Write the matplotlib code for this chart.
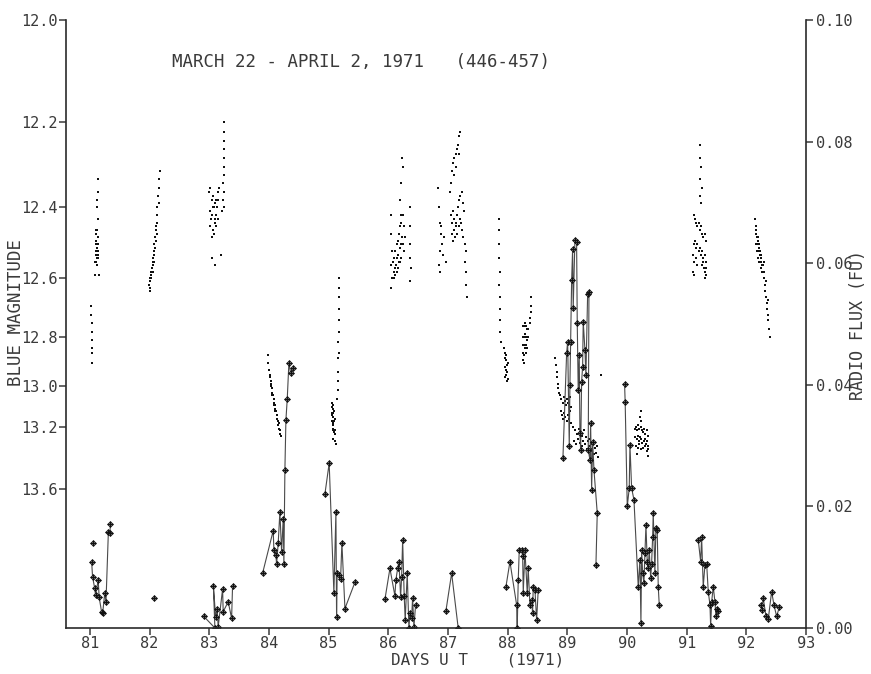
import numpy as np
import matplotlib
matplotlib.use("Agg")
import matplotlib.pyplot as plt

# ---- optical (blue magnitude), one pair of lists per night ----
opt81_t = [81.02, 81.02, 81.03, 81.03, 81.03, 81.04, 81.04, 81.04,
           81.13, 81.13, 81.12, 81.12, 81.13, 81.10, 81.11, 81.12, 81.13, 81.14, 81.10,
           81.11, 81.12, 81.13, 81.14, 81.10, 81.11, 81.12, 81.13, 81.09, 81.11, 81.12,
           81.14, 81.08, 81.15]
opt81_m = [12.69, 12.72, 12.75, 12.78, 12.81, 12.84, 12.86, 12.90,
           12.33, 12.36, 12.38, 12.40, 12.43, 12.46, 12.47, 12.46, 12.48, 12.50, 12.49,
           12.50, 12.51, 12.52, 12.50, 12.52, 12.53, 12.54, 12.53, 12.55, 12.55, 12.56,
           12.54, 12.59, 12.59]

opt82_t = [82.17, 82.16, 82.15, 82.14, 82.15, 82.13, 82.12, 82.13, 82.11, 82.10, 82.12,
           82.09, 82.10, 82.08, 82.09, 82.07, 82.08, 82.06, 82.07, 82.05, 82.06, 82.04,
           82.05, 82.03, 82.02, 82.03, 82.01, 82.00, 81.99, 82.01, 82.00]
opt82_m = [12.31, 12.33, 12.35, 12.37, 12.39, 12.40, 12.42, 12.44, 12.45, 12.46, 12.47,
           12.48, 12.49, 12.50, 12.51, 12.52, 12.53, 12.54, 12.55, 12.55, 12.56, 12.57,
           12.58, 12.58, 12.59, 12.60, 12.61, 12.60, 12.62, 12.63, 12.64]

opt83_t = [83.25, 83.25, 83.24, 83.25, 83.24, 83.25, 83.24, 83.23, 83.24, 83.23, 83.25, 83.22,
           83.00, 83.02, 83.04, 83.06, 83.08, 83.10, 83.12, 83.14, 83.01, 83.03, 83.05,
           83.07, 83.09, 83.11, 83.13, 83.15, 83.16, 83.02, 83.06, 83.10, 83.14, 83.04,
           83.08, 83.12, 83.05, 83.20, 83.10]
opt83_m = [12.20, 12.22, 12.24, 12.26, 12.28, 12.30, 12.32, 12.34, 12.36, 12.38, 12.40, 12.41,
           12.36, 12.35, 12.38, 12.37, 12.40, 12.39, 12.38, 12.36, 12.41, 12.43, 12.42,
           12.40, 12.43, 12.42, 12.40, 12.38, 12.35, 12.45, 12.46, 12.44, 12.43, 12.48,
           12.47, 12.45, 12.54, 12.53, 12.56]

opt84_t = [83.98, 83.99, 84.00, 84.01, 84.02, 84.03, 84.04, 84.05, 84.06, 84.07, 84.08,
           84.09, 84.10, 84.11, 84.12, 84.13, 84.14, 84.15, 84.16, 84.17, 84.18, 84.19,
           84.20, 84.05, 84.09, 84.13, 84.17, 84.03, 84.11]
opt84_m = [12.87, 12.90, 12.93, 12.95, 12.96, 12.98, 13.00, 13.01, 13.03, 13.04, 13.06,
           13.08, 13.09, 13.11, 13.12, 13.14, 13.16, 13.17, 13.19, 13.21, 13.22, 13.24,
           13.25, 13.04, 13.09, 13.16, 13.18, 12.99, 13.12]

opt85_t = [85.18, 85.18, 85.17, 85.18, 85.17, 85.17, 85.16, 85.17, 85.16, 85.16, 85.15,
           85.15, 85.14,
           85.05, 85.06, 85.07, 85.08, 85.05, 85.06, 85.07, 85.08, 85.09, 85.06, 85.07,
           85.08, 85.09, 85.10, 85.07, 85.08, 85.09, 85.10, 85.11, 85.08, 85.10, 85.12]
opt85_m = [12.60, 12.63, 12.66, 12.70, 12.74, 12.78, 12.82, 12.86, 12.88, 12.94, 12.98,
           13.02, 13.06,
           13.08, 13.10, 13.09, 13.11, 13.13, 13.14, 13.15, 13.13, 13.12, 13.17, 13.18,
           13.19, 13.17, 13.16, 13.21, 13.22, 13.23, 13.24, 13.22, 13.27, 13.28, 13.30]

opt86_t = [86.05, 86.05, 86.06, 86.05, 86.06, 86.05,
           86.08, 86.10, 86.12, 86.14, 86.16, 86.18, 86.20, 86.22, 86.24, 86.26, 86.28,
           86.09, 86.11, 86.13, 86.15, 86.17, 86.19, 86.21, 86.23, 86.25, 86.27,
           86.10, 86.12, 86.14, 86.16, 86.18, 86.20, 86.22,
           86.20, 86.22, 86.24, 86.23, 86.21,
           86.36, 86.37, 86.36, 86.37, 86.38, 86.36]
opt86_m = [12.42, 12.47, 12.52, 12.56, 12.60, 12.63,
           12.55, 12.54, 12.52, 12.50, 12.49, 12.47, 12.45, 12.44, 12.42, 12.45, 12.48,
           12.58, 12.57, 12.56, 12.54, 12.53, 12.51, 12.50, 12.48, 12.50, 12.52,
           12.60, 12.59, 12.58, 12.57, 12.55, 12.55, 12.54,
           12.38, 12.34, 12.30, 12.28, 12.42,
           12.40, 12.45, 12.50, 12.54, 12.57, 12.61]

opt87_t = [86.84, 86.85, 86.86, 86.88, 86.90, 86.92, 86.85, 86.87, 86.89, 86.94, 86.96, 86.86,
           87.03, 87.05, 87.07, 87.09, 87.11, 87.13, 87.15, 87.17, 87.19, 87.20, 87.10,
           87.14, 87.18,
           87.05, 87.07, 87.09, 87.11, 87.13, 87.15, 87.17, 87.19, 87.21, 87.23, 87.25,
           87.27, 87.06, 87.08, 87.10, 87.12, 87.14, 87.16, 87.18, 87.20, 87.22, 87.24,
           87.26, 87.28, 87.30, 87.28, 87.30, 87.31, 87.32]
opt87_m = [12.35, 12.40, 12.44, 12.47, 12.50, 12.53, 12.56, 12.52, 12.45, 12.48, 12.55, 12.58,
           12.36, 12.34, 12.31, 12.29, 12.28, 12.27, 12.26, 12.25, 12.23, 12.22, 12.32,
           12.30, 12.27,
           12.42, 12.44, 12.41, 12.43, 12.45, 12.42, 12.40, 12.38, 12.37, 12.36, 12.39,
           12.41, 12.47, 12.49, 12.46, 12.48, 12.44, 12.47, 12.45, 12.43, 12.44, 12.46,
           12.48, 12.50, 12.52, 12.55, 12.58, 12.62, 12.66]

opt88_t = [87.85, 87.86, 87.85, 87.86, 87.87, 87.86, 87.87, 87.88, 87.87, 87.88, 87.89,
           87.94, 87.95, 87.96, 87.97, 87.98, 87.99, 88.00, 87.95, 87.97, 87.99, 87.96,
           87.98, 88.00, 87.99,
           88.40, 88.40, 88.39, 88.38, 88.37, 88.25, 88.27, 88.29, 88.31, 88.33, 88.35,
           88.25, 88.27, 88.29, 88.31, 88.33, 88.35, 88.25, 88.27, 88.29, 88.31, 88.33,
           88.26, 88.28, 88.30, 88.26, 88.28]
opt88_m = [12.43, 12.46, 12.50, 12.54, 12.58, 12.62, 12.66, 12.70, 12.74, 12.78, 12.82,
           12.84, 12.86, 12.88, 12.87, 12.89, 12.91, 12.90, 12.92, 12.93, 12.94, 12.96,
           12.95, 12.97, 12.98,
           12.66, 12.69, 12.71, 12.73, 12.75, 12.76, 12.76, 12.75, 12.76, 12.77, 12.77,
           12.80, 12.80, 12.79, 12.80, 12.81, 12.80, 12.83, 12.83, 12.84, 12.83, 12.84,
           12.86, 12.87, 12.86, 12.89, 12.90]

opt89_t = [88.80, 88.81, 88.82, 88.83, 88.84, 88.85, 88.86,
           88.88, 88.90, 88.92, 88.94, 88.96, 88.98, 89.00, 89.02, 89.04, 89.06,
           88.89, 88.91, 88.93, 88.95, 88.97, 88.99, 89.01, 89.03, 89.05, 89.07,
           89.10, 89.13, 89.16, 89.19, 89.22, 89.25, 89.28, 89.31, 89.34, 89.37, 89.40,
           89.43, 89.46, 89.49,
           89.12, 89.15, 89.18, 89.21, 89.24, 89.27, 89.30, 89.33, 89.36, 89.39, 89.42,
           89.45, 89.48, 89.52, 89.56]
opt89_m = [12.88, 12.91, 12.94, 12.96, 12.99, 13.01, 13.03,
           13.04, 13.06, 13.08, 13.05, 13.07, 13.09, 13.06, 13.08, 13.05, 13.10,
           13.12, 13.14, 13.16, 13.13, 13.15, 13.17, 13.14, 13.16, 13.12, 13.18,
           13.20, 13.22, 13.24, 13.21, 13.23, 13.25, 13.22, 13.26, 13.28, 13.27, 13.30,
           13.29, 13.32, 13.31,
           13.28, 13.30, 13.27, 13.29, 13.31, 13.28, 13.30, 13.33, 13.31, 13.34, 13.33,
           13.36, 13.35, 13.38, 12.95]

opt90_t = [90.23, 90.22, 90.23,
           90.13, 90.15, 90.17, 90.19, 90.21, 90.23, 90.25, 90.27, 90.29, 90.31, 90.33, 90.35,
           90.14, 90.16, 90.18, 90.20, 90.22, 90.24, 90.26, 90.28, 90.30, 90.32, 90.34, 90.36,
           90.15, 90.18, 90.21, 90.24, 90.27, 90.30, 90.33, 90.36, 90.17, 90.36]
opt90_m = [13.12, 13.15, 13.17,
           13.21, 13.20, 13.22, 13.19, 13.21, 13.20, 13.22, 13.23, 13.21, 13.24, 13.22, 13.25,
           13.26, 13.27, 13.25, 13.28, 13.26, 13.27, 13.29, 13.28, 13.27, 13.30, 13.28, 13.31,
           13.31, 13.32, 13.30, 13.33, 13.32, 13.31, 13.34, 13.33, 13.36, 13.37]

opt91_t = [91.22, 91.23, 91.24, 91.22, 91.25, 91.23, 91.24,
           91.12, 91.14, 91.16, 91.18, 91.20, 91.22, 91.24, 91.26, 91.28, 91.30, 91.32,
           91.12, 91.14, 91.16, 91.18, 91.20, 91.22, 91.24, 91.26, 91.28, 91.30, 91.32,
           91.11, 91.13, 91.15, 91.17, 91.25, 91.27, 91.29, 91.31, 91.33,
           91.11, 91.13, 91.30, 91.32]
opt91_m = [12.25, 12.28, 12.30, 12.33, 12.35, 12.37, 12.39,
           12.42, 12.43, 12.44, 12.45, 12.44, 12.46, 12.45, 12.47, 12.48, 12.47, 12.49,
           12.50, 12.49, 12.51, 12.50, 12.52, 12.51, 12.53, 12.52, 12.54, 12.53, 12.55,
           12.53, 12.55, 12.54, 12.56, 12.56, 12.55, 12.57, 12.58, 12.57,
           12.58, 12.59, 12.60, 12.59]

opt92_t = [92.15, 92.16, 92.17, 92.18, 92.19, 92.20, 92.21, 92.22, 92.23, 92.24, 92.25, 92.26,
           92.16, 92.18, 92.20, 92.22, 92.24, 92.26, 92.17, 92.19, 92.21, 92.23, 92.25,
           92.28, 92.29, 92.30, 92.31, 92.32, 92.33, 92.34, 92.35, 92.36, 92.37, 92.38,
           92.39, 92.30, 92.33, 92.36]
opt92_m = [12.43, 12.45, 12.47, 12.48, 12.49, 12.50, 12.51, 12.52, 12.53, 12.54, 12.55, 12.56,
           12.50, 12.52, 12.54, 12.55, 12.57, 12.58, 12.46, 12.48, 12.50, 12.52, 12.53,
           12.56, 12.58, 12.60, 12.62, 12.64, 12.66, 12.68, 12.70, 12.72, 12.74, 12.77,
           12.80, 12.55, 12.61, 12.67]

# ---- radio flux (f.u.), connected runs ----
rad81_t = [81.030, 81.045, 81.080, 81.095, 81.140, 81.155, 81.195, 81.215, 81.250,
           81.270, 81.310, 81.335, 81.345]
rad81_f = [0.0109, 0.0084, 0.0066, 0.0054, 0.0079, 0.0051, 0.0027, 0.0025, 0.0058,
           0.0043, 0.0158, 0.0156, 0.0171]
rad_single_t = [81.055, 82.070]
rad_single_f = [0.0140, 0.0049]

rad83_t = [82.910, 83.095, 83.070, 83.107, 83.133, 83.150, 83.224, 83.234, 83.318,
           83.375, 83.391]
rad83_f = [0.0019, 0.0000, 0.0069, 0.0018, 0.0032, 0.0002, 0.0064, 0.0027, 0.0043,
           0.0016, 0.0069]

rad84_t = [83.894, 84.072, 84.084, 84.117, 84.129, 84.156, 84.184, 84.213, 84.240,
           84.251, 84.268, 84.285, 84.307, 84.335, 84.364, 84.397]
rad84_f = [0.0090, 0.0160, 0.0128, 0.0120, 0.0105, 0.0140, 0.0191, 0.0125, 0.0180,
           0.0105, 0.0260, 0.0342, 0.0376, 0.0436, 0.0419, 0.0427]

rad85_t = [84.938, 85.010, 85.089, 85.123, 85.134, 85.144, 85.178, 85.201, 85.223,
           85.274, 85.441]
rad85_f = [0.0220, 0.0271, 0.0058, 0.0191, 0.0018, 0.0090, 0.0087, 0.0080, 0.0140,
           0.0032, 0.0075]

rad86_t = [85.944, 86.028, 86.111, 86.128, 86.157, 86.179, 86.207, 86.224, 86.241,
           86.267, 86.284, 86.318, 86.346, 86.363, 86.391, 86.408, 86.430, 86.458]
rad86_f = [0.0047, 0.0098, 0.0053, 0.0079, 0.0098, 0.0109, 0.0051, 0.0084, 0.0145,
           0.0053, 0.0013, 0.0090, 0.0000, 0.0024, 0.0016, 0.0049, 0.0002, 0.0038]

rad87_t = [86.966, 87.062, 87.172]
rad87_f = [0.0028, 0.0090, 0.0000]

rad88_t = [87.972, 88.039, 88.151, 88.161, 88.178, 88.195, 88.235, 88.252, 88.262,
           88.290, 88.329, 88.345, 88.374, 88.402, 88.419, 88.429, 88.458, 88.486, 88.513]
rad88_f = [0.0068, 0.0109, 0.0038, 0.0000, 0.0079, 0.0128, 0.0128, 0.0118, 0.0058,
           0.0128, 0.0058, 0.0098, 0.0038, 0.0046, 0.0024, 0.0068, 0.0063, 0.0013, 0.0063]

rad89_t = [88.927, 88.989, 89.006, 89.033, 89.044, 89.056, 89.073, 89.089, 89.099,
           89.128, 89.156, 89.167, 89.183, 89.200, 89.212, 89.224, 89.240, 89.257,
           89.267, 89.296, 89.312, 89.341, 89.363, 89.351, 89.380, 89.391, 89.408,
           89.425, 89.447, 89.502, 89.480]
rad89_f = [0.0280, 0.0452, 0.0471, 0.0299, 0.0400, 0.0471, 0.0572, 0.0623, 0.0526,
           0.0638, 0.0635, 0.0501, 0.0391, 0.0449, 0.0320, 0.0293, 0.0405, 0.0430,
           0.0504, 0.0457, 0.0416, 0.0550, 0.0553, 0.0293, 0.0276, 0.0337, 0.0227,
           0.0306, 0.0260, 0.0189, 0.0104]

rad90_t = [89.960, 89.970, 90.005, 90.038, 90.050, 90.078, 90.117, 90.189, 90.217,
           90.234, 90.246, 90.263, 90.284, 90.301, 90.318, 90.340, 90.357, 90.373,
           90.397, 90.413, 90.430, 90.440, 90.468, 90.485, 90.507, 90.524, 90.541]
rad90_f = [0.0401, 0.0371, 0.0200, 0.0230, 0.0301, 0.0230, 0.0211, 0.0068, 0.0112,
           0.0008, 0.0128, 0.0090, 0.0074, 0.0123, 0.0169, 0.0109, 0.0098, 0.0128,
           0.0082, 0.0106, 0.0150, 0.0189, 0.0090, 0.0164, 0.0162, 0.0068, 0.0038]

rad91_t = [91.194, 91.235, 91.251, 91.278, 91.307, 91.335, 91.362, 91.391, 91.402,
           91.419, 91.446, 91.474, 91.491, 91.503, 91.530]
rad91_f = [0.0145, 0.0109, 0.0150, 0.0068, 0.0104, 0.0106, 0.0060, 0.0038, 0.0003,
           0.0043, 0.0068, 0.0043, 0.0019, 0.0032, 0.0028]

rad92_t = [92.240, 92.257, 92.284, 92.329, 92.367, 92.424, 92.463, 92.508, 92.552]
rad92_f = [0.0038, 0.0030, 0.0049, 0.0019, 0.0014, 0.0060, 0.0038, 0.0019, 0.0034]

mag_ticks = [12.0, 12.2, 12.4, 12.6, 12.8, 13.0, 13.2, 13.6]
flux_ticks = [0.00, 0.02, 0.04, 0.06, 0.08, 0.10]
day_ticks = list(range(81, 94))


def mag_to_axis(m):
    # the magnitude scale is linear in intensity: 12.0 mag sits at 0.10 f.u.
    return 0.1 * 10 ** (-0.4 * (np.asarray(m) - 12.0))


ink = "#3a3a3a"
plt.rcParams["font.family"] = ["DejaVu Sans Mono"]
plt.rcParams["text.color"] = ink

fig = plt.figure(figsize=(8.71, 6.74), dpi=100)
ax = fig.add_axes([66 / 871, 46 / 674, 740 / 871, 608 / 674])

optical = [(opt81_t, opt81_m), (opt82_t, opt82_m), (opt83_t, opt83_m),
           (opt84_t, opt84_m), (opt85_t, opt85_m), (opt86_t, opt86_m),
           (opt87_t, opt87_m), (opt88_t, opt88_m), (opt89_t, opt89_m),
           (opt90_t, opt90_m), (opt91_t, opt91_m), (opt92_t, opt92_m)]
for t, m in optical:
    ax.plot(t, mag_to_axis(m), ls="none", marker="s", ms=1.9, mew=0, color="#111111")

radio = [(rad81_t, rad81_f), (rad83_t, rad83_f), (rad84_t, rad84_f),
         (rad85_t, rad85_f), (rad86_t, rad86_f), (rad87_t, rad87_f),
         (rad88_t, rad88_f), (rad89_t, rad89_f), (rad90_t, rad90_f),
         (rad91_t, rad91_f), (rad92_t, rad92_f)]
for t, f in radio:
    ax.plot(t, f, color="#4a4a4a", lw=0.8)
    ax.plot(t, f, ls="none", marker="D", ms=2.7, mfc="white", mec="#111111", mew=0.8)
    ax.plot(t, f, ls="none", marker="+", ms=5, mec="#111111", mew=0.8)
ax.plot(rad_single_t, rad_single_f, ls="none", marker="D", ms=2.7, mfc="white",
        mec="#111111", mew=0.8)
ax.plot(rad_single_t, rad_single_f, ls="none", marker="+", ms=5, mec="#111111", mew=0.8)

ax.set_xlim(80.6, 93)
ax.set_ylim(0, 0.1)
ax.set_xticks(day_ticks)
ax.set_xticklabels([str(d) for d in day_ticks])
ax.set_yticks(mag_to_axis(mag_ticks))
ax.set_yticklabels([f"{m:.1f}" for m in mag_ticks])

axr = ax.twinx()
axr.set_ylim(0, 0.1)
axr.set_yticks(flux_ticks)
axr.set_yticklabels([f"{f:.2f}" for f in flux_ticks])

for a in (ax, axr):
    a.spines["top"].set_visible(False)
    for s in a.spines.values():
        s.set_color("#2a2a2a")
        s.set_linewidth(1.2)
ax.spines["right"].set_visible(False)
axr.spines["left"].set_visible(False)
axr.spines["bottom"].set_visible(False)

ax.tick_params(axis="y", direction="out", length=5, width=1.1, pad=1,
               labelsize=11, colors=ink)
ax.tick_params(axis="x", direction="out", length=5, width=1.1, pad=1,
               labelsize=11, colors=ink)
axr.tick_params(axis="y", direction="out", length=5, width=1.1, pad=2,
                labelsize=11, colors=ink)

fig.text(0.415, 0.908, "MARCH 22 - APRIL 2, 1971   (446-457)", fontsize=12.5,
         ha="center", va="center")
fig.text(0.018, 0.536, "BLUE MAGNITUDE", rotation=90, fontsize=12.5,
         ha="center", va="center")
fig.text(0.985, 0.518, "RADIO FLUX (FU)", rotation=90, fontsize=12,
         ha="center", va="center")
fig.text(0.548, 0.021, "DAYS U T    (1971)", fontsize=11.5, ha="center", va="center")

fig.savefig("out.png", dpi=100, facecolor="white")
